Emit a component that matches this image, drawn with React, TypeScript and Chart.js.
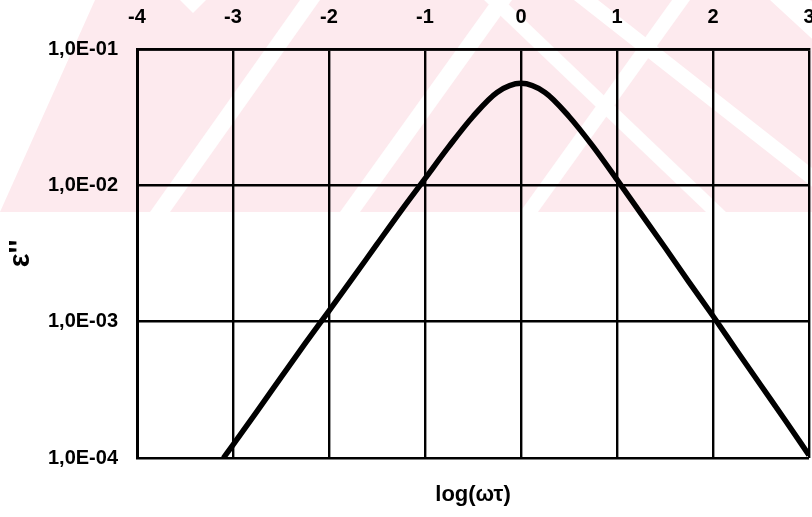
import React, { useEffect, useRef } from "react";
import { Chart, registerables } from "chart.js";

Chart.register(...registerables);

// log(ωτ) positions of the sampled loss curve
const logOmegaTau = [
  -3.1, -3.0, -2.75, -2.5, -2.25, -2.0, -1.75, -1.5, -1.25, -1.0, -0.75, -0.5, -0.25,
  0, 0.25, 0.5, 0.75, 1.0, 1.25, 1.5, 1.75, 2.0, 2.25, 2.5, 2.75, 3.0,
];

// dielectric loss ε'' at each position
const epsLoss = [
  1.0e-4, 1.25e-4, 2.2e-4, 3.9e-4, 6.9e-4, 1.2e-3, 2.1e-3, 3.7e-3, 6.5e-3, 1.12e-2, 1.93e-2, 3.2e-2, 4.8e-2,
  5.6e-2, 4.8e-2, 3.2e-2, 1.93e-2, 1.1e-2, 6.2e-3, 3.5e-3, 1.95e-3, 1.1e-3, 6.1e-4, 3.4e-4, 1.9e-4, 1.05e-4,
];

// decade ticks of the logarithmic ε'' axis and their labels
const yTickValues = [1e-4, 1e-3, 1e-2, 1e-1];
const yTickLabels = ["1,0E-04", "1,0E-03", "1,0E-02", "1,0E-01"];

const X_MIN = -4;
const X_MAX = 3;

const FONT = "'Liberation Sans', Arial, Helvetica, sans-serif";
const PINK = "rgb(253,234,238)";

// faint diagonal background stripes in the upper part of the page
const stripePlugin = {
  id: "stripes",
  beforeDraw(chart: Chart) {
    const ctx = chart.ctx;
    const bottom = 212;
    ctx.save();
    ctx.beginPath();
    ctx.rect(0, 0, chart.width, bottom);
    ctx.clip();
    // pink field, cut along a diagonal on the left
    ctx.fillStyle = PINK;
    ctx.beginPath();
    ctx.moveTo(0, bottom);
    ctx.lineTo(95, 0);
    ctx.lineTo(chart.width, 0);
    ctx.lineTo(chart.width, bottom);
    ctx.closePath();
    ctx.fill();
    ctx.fillStyle = "#ffffff";
    const band = (x0: number, x1: number, w: number) => {
      // parallelogram from (x0, bottom) to (x1, 0), horizontal width w
      ctx.beginPath();
      ctx.moveTo(x0, bottom);
      ctx.lineTo(x0 + w, bottom);
      ctx.lineTo(x1 + w, 0);
      ctx.lineTo(x1, 0);
      ctx.closePath();
      ctx.fill();
    };
    // rising stripes
    band(150, 300, 20);
    band(340, 492, 20);
    band(520, 672, 18);
    // falling stripes
    band(706, 484, 20);
    band(844, 574, 24);
    band(1000, 770, 40);
    // small notch at the top
    ctx.beginPath();
    ctx.moveTo(180, 0);
    ctx.lineTo(206, 0);
    ctx.lineTo(193, 13);
    ctx.closePath();
    ctx.fill();
    ctx.restore();
  },
};

export default function App() {
  const canvasRef = useRef<HTMLCanvasElement | null>(null);

  useEffect(() => {
    const canvas = canvasRef.current;
    if (!canvas) return;
    const points = logOmegaTau.map((x, i) => ({ x, y: epsLoss[i] }));

    const chart = new Chart(canvas, {
      type: "line",
      data: {
        datasets: [
          {
            data: points,
            borderColor: "#000000",
            borderWidth: 5.5,
            pointRadius: 0,
            cubicInterpolationMode: "monotone",
            fill: false,
          },
        ],
      },
      options: {
        responsive: false,
        animation: false,
        devicePixelRatio: 1,
        layout: { padding: { left: 0, right: 3, top: 0, bottom: 0 } },
        plugins: {
          legend: { display: false },
          tooltip: { enabled: false },
        },
        scales: {
          x: {
            type: "linear",
            position: "top",
            min: X_MIN,
            max: X_MAX,
            ticks: {
              stepSize: 1,
              color: "#000000",
              padding: 20,
              font: { family: FONT, size: 20, weight: "bold" },
            },
            grid: { color: "#000000", lineWidth: 2.4, drawTicks: false },
            border: { display: true, color: "#000000", width: 2.8 },
            afterFit(scale: any) {
              scale.height = 49;
              scale.paddingLeft = 0;
              scale.paddingRight = 0;
            },
          },
          x2: {
            type: "linear",
            position: "bottom",
            min: X_MIN,
            max: X_MAX,
            ticks: { display: false },
            grid: { display: false, drawTicks: false },
            border: { display: false },
            title: {
              display: true,
              text: "log(ωτ)",
              color: "#000000",
              font: { family: FONT, size: 22, weight: "bold" },
              padding: { top: 0, bottom: 9 },
            },
            afterFit(scale: any) {
              scale.height = 59;
              scale.paddingLeft = 0;
              scale.paddingRight = 0;
            },
          },
          y: {
            type: "logarithmic",
            position: "left",
            min: yTickValues[0],
            max: yTickValues[yTickValues.length - 1],
            afterBuildTicks(scale: any) {
              scale.ticks = yTickValues.map((v) => ({ value: v }));
            },
            ticks: {
              color: "#000000",
              padding: 19,
              font: { family: FONT, size: 20, weight: "bold" },
              callback: (value: any) => {
                const i = yTickValues.findIndex((v) => Math.abs(Math.log10(v) - Math.log10(Number(value))) < 1e-6);
                return i >= 0 ? yTickLabels[i] : "";
              },
            },
            grid: { color: "#000000", lineWidth: 2.4, drawTicks: false },
            border: { display: true, color: "#000000", width: 3 },
            title: {
              display: true,
              text: "ε''",
              color: "#000000",
              font: { family: FONT, size: 29, weight: "bold" },
              padding: { top: 4, bottom: 0 },
            },
            afterFit(scale: any) {
              scale.width = 137;
            },
          },
        },
      },
      plugins: [stripePlugin],
    });

    return () => chart.destroy();
  }, []);

  return (
    <div style={{ position: "fixed", left: 0, top: 0, width: 812, height: 517, background: "#ffffff" }}>
      <canvas ref={canvasRef} width={812} height={517} style={{ display: "block" }} />
    </div>
  );
}
